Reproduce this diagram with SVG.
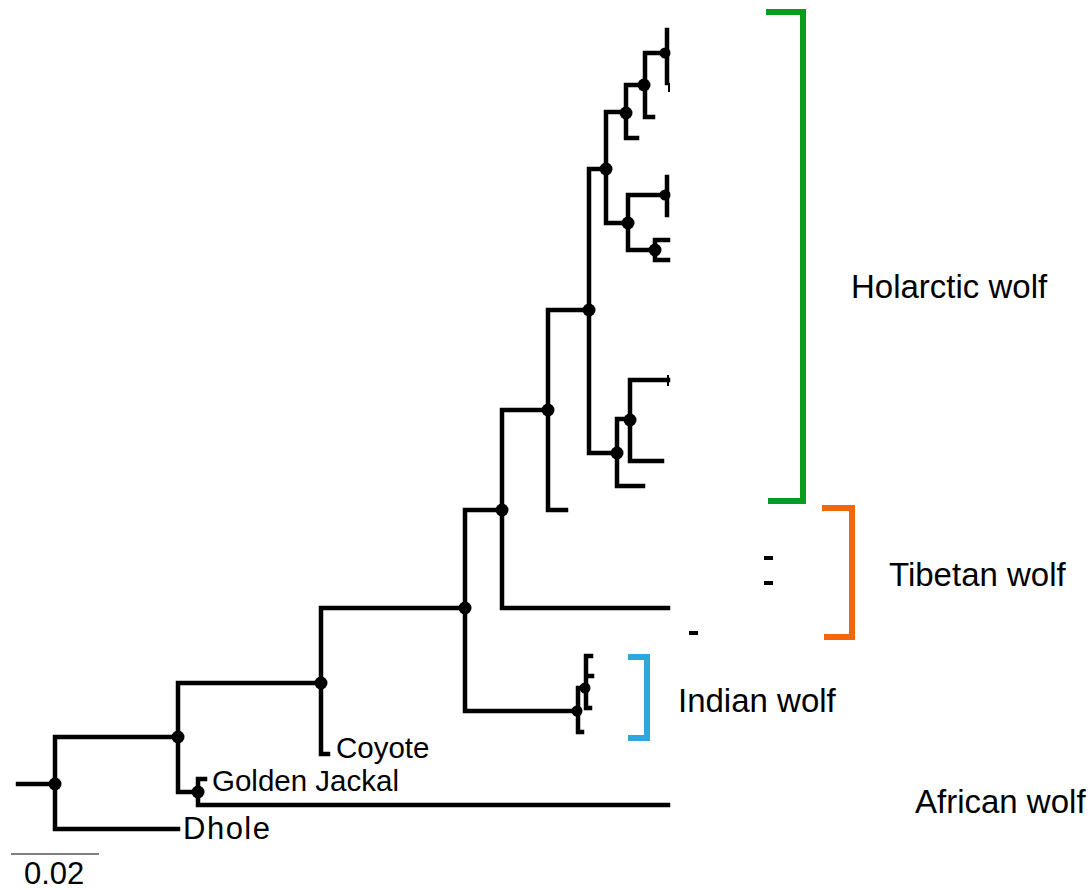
<svg xmlns="http://www.w3.org/2000/svg" width="1091" height="890" viewBox="0 0 1091 890">
<style>
.br{fill:none;stroke:#000;stroke-width:4.5;stroke-linecap:square;stroke-linejoin:miter}
.thin{fill:none;stroke:#000;stroke-width:2}
.nd{fill:#000}
.lbl{font-family:"Liberation Sans",Arial,sans-serif;fill:#000}
.big{font-size:33px}
.sm{font-size:29.5px}
.bk{fill:none;stroke-width:6;stroke-linecap:butt;stroke-linejoin:miter}
</style>
<rect width="1091" height="890" fill="#fff"/>
<g id="connectors">
<path class="br" d="M18,784H55 M55,737V829 M55,829H178 M55,737H178
M178,683V792 M178,683H321 M178,792H198
M198,779V805 M198,779H205 M198,805H668
M321,608V754 M321,754H328 M321,608H465
M465,510V711 M465,510H502 M465,711H577
M502,410V608 M502,608H668 M502,410H548
M548,310V510 M548,510H566 M548,310H589
M589,169V453 M589,169H606 M589,453H617
M606,112V223 M606,112H626 M606,223H628
M626,85V138 M626,138H637 M626,85H644
M645,53V117 M645,117H653 M645,53H666
M667,30V83
M628,195V250 M628,195H666 M628,250H654
M667,177V215
M655,240V260 M655,240H668 M655,260H668
M617,419V486 M617,486H643 M617,419H630
M630,380V461 M630,461H662 M630,380H668
M578,688V732 M578,732H582 M578,688H585
M586,656V708 M586,656H591 M586,676H592 M586,708H590"/>
<path class="thin" d="M669,83V92 M668,375V386"/>
<rect x="764" y="556" width="9" height="4" fill="#000"/>
<rect x="764" y="581" width="9" height="4" fill="#000"/>
<rect x="689" y="631" width="9" height="4" fill="#000"/>
<line x1="11" y1="854" x2="99" y2="854" stroke="#555" stroke-width="1.5"/>
</g>
<g id="nodes">
<circle class="nd" cx="55" cy="784" r="6.5"/>
<circle class="nd" cx="178" cy="737" r="6.5"/>
<circle class="nd" cx="198" cy="792" r="6.5"/>
<circle class="nd" cx="321" cy="683" r="6.5"/>
<circle class="nd" cx="465" cy="608" r="6.5"/>
<circle class="nd" cx="502" cy="510" r="6.5"/>
<circle class="nd" cx="548" cy="410" r="6.5"/>
<circle class="nd" cx="589" cy="310" r="6.5"/>
<circle class="nd" cx="606" cy="169" r="6.5"/>
<circle class="nd" cx="626" cy="113" r="6.5"/>
<circle class="nd" cx="644" cy="85" r="6.5"/>
<circle class="nd" cx="665" cy="53" r="5.5"/>
<circle class="nd" cx="628" cy="223" r="6.5"/>
<circle class="nd" cx="665" cy="195" r="5.5"/>
<circle class="nd" cx="655" cy="250" r="6.5"/>
<circle class="nd" cx="617" cy="453" r="6.5"/>
<circle class="nd" cx="630" cy="420" r="6.5"/>
<circle class="nd" cx="577" cy="711" r="5.5"/>
<circle class="nd" cx="585" cy="688" r="5.5"/>
</g>
<g id="leaf-labels">
<text class="lbl sm" x="336" y="758">Coyote</text>
<text class="lbl sm" x="212" y="791">Golden Jackal</text>
<text class="lbl" x="183" y="839" font-size="31" textLength="87" lengthAdjust="spacing">Dhole</text>
<text class="lbl" x="24" y="884" font-size="31">0.02</text>
</g>
<g id="holarctic">
<path class="bk" stroke="#079b22" d="M766,12H803V501H768"/>
<text class="lbl big" x="851" y="298">Holarctic wolf</text>
</g>
<g id="tibetan">
<path class="bk" stroke="#f2660d" d="M822,508H852V637H824"/>
<text class="lbl big" x="889" y="586">Tibetan wolf</text>
</g>
<g id="indian">
<path class="bk" stroke="#2ea7dd" d="M628,657H647V738H628"/>
<text class="lbl big" x="678" y="712">Indian wolf</text>
</g>
<g id="african">
<text class="lbl big" x="915" y="813">African wolf</text>
</g>
</svg>
